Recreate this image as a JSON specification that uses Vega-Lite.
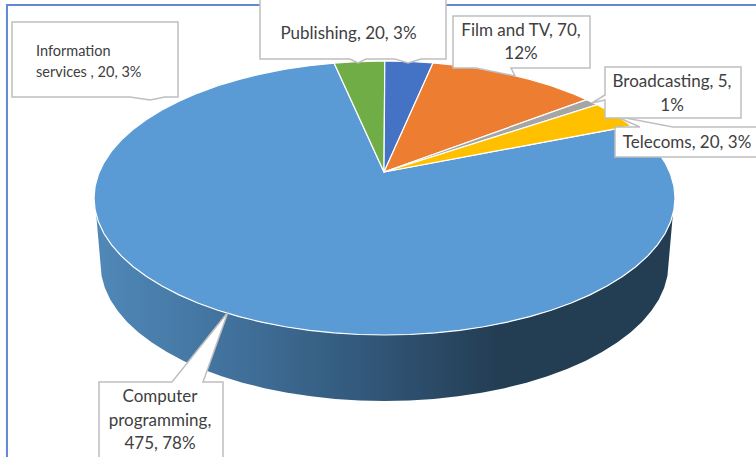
{
"$schema":"https://vega.github.io/schema/vega-lite/v6.json",
"width":756,"height":457,"padding":0,"autosize":{"type":"none"},
"background":"white",
"config":{"view":{"stroke":null}},
"datasets":{
"frame":[{"x":-129.96,"y":-189.05},{"x":-129.96,"y":140.88},{"x":127.88,"y":140.88}],
"wall":[
{"x":99.25,"y":-12.19},{"x":98.48,"y":-17.36},{"x":96.59,"y":-25.88},{"x":93.97,"y":-34.2},{"x":90.63,"y":-42.26},{"x":86.6,"y":-50},{"x":81.92,"y":-57.36},{"x":76.6,"y":-64.28},{"x":70.71,"y":-70.71},{"x":64.28,"y":-76.6},{"x":57.36,"y":-81.92},{"x":50,"y":-86.6},{"x":42.26,"y":-90.63},{"x":34.2,"y":-93.97},{"x":25.88,"y":-96.59},{"x":17.36,"y":-98.48},{"x":8.72,"y":-99.62},{"x":0,"y":-100},
{"x":-8.72,"y":-99.62},{"x":-17.36,"y":-98.48},{"x":-25.88,"y":-96.59},{"x":-34.2,"y":-93.97},{"x":-42.26,"y":-90.63},{"x":-50,"y":-86.6},{"x":-57.36,"y":-81.92},{"x":-64.28,"y":-76.6},{"x":-70.71,"y":-70.71},{"x":-76.6,"y":-64.28},{"x":-81.92,"y":-57.36},{"x":-86.6,"y":-50},{"x":-90.63,"y":-42.26},{"x":-93.97,"y":-34.2},{"x":-96.59,"y":-25.88},{"x":-98.48,"y":-17.36},{"x":-99.25,"y":-12.19},
{"x":-97.76,"y":-48.18},{"x":-97.39,"y":-56.9},{"x":-96.27,"y":-65.54},{"x":-94.43,"y":-74.06},{"x":-91.87,"y":-82.38},{"x":-88.6,"y":-90.44},{"x":-84.66,"y":-98.18},{"x":-80.08,"y":-105.54},{"x":-74.88,"y":-112.46},{"x":-69.13,"y":-118.89},{"x":-62.84,"y":-124.78},{"x":-56.07,"y":-130.1},{"x":-48.88,"y":-134.78},{"x":-41.31,"y":-138.81},{"x":-33.43,"y":-142.15},{"x":-25.3,"y":-144.77},{"x":-16.97,"y":-146.66},{"x":-8.52,"y":-147.8},{"x":0,"y":-148.18},
{"x":8.52,"y":-147.8},{"x":16.97,"y":-146.66},{"x":25.3,"y":-144.77},{"x":33.43,"y":-142.15},{"x":41.31,"y":-138.81},{"x":48.88,"y":-134.78},{"x":56.07,"y":-130.1},{"x":62.84,"y":-124.78},{"x":69.13,"y":-118.89},{"x":74.88,"y":-112.46},{"x":80.08,"y":-105.54},{"x":84.66,"y":-98.18},{"x":88.6,"y":-90.44},{"x":91.87,"y":-82.38},{"x":94.43,"y":-74.06},{"x":96.27,"y":-65.54},{"x":97.39,"y":-56.9},{"x":97.76,"y":-48.18}
],
"slices":[
{"slice":"Computer programming","x":-0.17,"y":18.98},{"slice":"Computer programming","x":85,"y":52.7},{"slice":"Computer programming","x":86.6,"y":50},{"slice":"Computer programming","x":90.63,"y":42.26},{"slice":"Computer programming","x":93.97,"y":34.2},{"slice":"Computer programming","x":96.59,"y":25.88},{"slice":"Computer programming","x":98.48,"y":17.36},{"slice":"Computer programming","x":99.62,"y":8.72},{"slice":"Computer programming","x":100,"y":0},
{"slice":"Computer programming","x":99.62,"y":-8.72},{"slice":"Computer programming","x":98.48,"y":-17.36},{"slice":"Computer programming","x":96.59,"y":-25.88},{"slice":"Computer programming","x":93.97,"y":-34.2},{"slice":"Computer programming","x":90.63,"y":-42.26},{"slice":"Computer programming","x":86.6,"y":-50},{"slice":"Computer programming","x":81.92,"y":-57.36},{"slice":"Computer programming","x":76.6,"y":-64.28},{"slice":"Computer programming","x":70.71,"y":-70.71},{"slice":"Computer programming","x":64.28,"y":-76.6},{"slice":"Computer programming","x":57.36,"y":-81.92},{"slice":"Computer programming","x":50,"y":-86.6},{"slice":"Computer programming","x":42.26,"y":-90.63},{"slice":"Computer programming","x":34.2,"y":-93.97},{"slice":"Computer programming","x":25.88,"y":-96.59},{"slice":"Computer programming","x":17.36,"y":-98.48},{"slice":"Computer programming","x":8.72,"y":-99.62},{"slice":"Computer programming","x":0,"y":-100},
{"slice":"Computer programming","x":-8.72,"y":-99.62},{"slice":"Computer programming","x":-17.36,"y":-98.48},{"slice":"Computer programming","x":-25.88,"y":-96.59},{"slice":"Computer programming","x":-34.2,"y":-93.97},{"slice":"Computer programming","x":-42.26,"y":-90.63},{"slice":"Computer programming","x":-50,"y":-86.6},{"slice":"Computer programming","x":-57.36,"y":-81.92},{"slice":"Computer programming","x":-64.28,"y":-76.6},{"slice":"Computer programming","x":-70.71,"y":-70.71},{"slice":"Computer programming","x":-76.6,"y":-64.28},{"slice":"Computer programming","x":-81.92,"y":-57.36},{"slice":"Computer programming","x":-86.6,"y":-50},{"slice":"Computer programming","x":-90.63,"y":-42.26},{"slice":"Computer programming","x":-93.97,"y":-34.2},{"slice":"Computer programming","x":-96.59,"y":-25.88},{"slice":"Computer programming","x":-98.48,"y":-17.36},{"slice":"Computer programming","x":-99.62,"y":-8.72},{"slice":"Computer programming","x":-100,"y":0},
{"slice":"Computer programming","x":-99.62,"y":8.72},{"slice":"Computer programming","x":-98.48,"y":17.36},{"slice":"Computer programming","x":-96.59,"y":25.88},{"slice":"Computer programming","x":-93.97,"y":34.2},{"slice":"Computer programming","x":-90.63,"y":42.26},{"slice":"Computer programming","x":-86.6,"y":50},{"slice":"Computer programming","x":-81.92,"y":57.36},{"slice":"Computer programming","x":-76.6,"y":64.28},{"slice":"Computer programming","x":-70.71,"y":70.71},{"slice":"Computer programming","x":-64.28,"y":76.6},{"slice":"Computer programming","x":-57.36,"y":81.92},{"slice":"Computer programming","x":-50,"y":86.6},{"slice":"Computer programming","x":-42.26,"y":90.63},{"slice":"Computer programming","x":-34.2,"y":93.97},{"slice":"Computer programming","x":-25.88,"y":96.59},{"slice":"Computer programming","x":-17.36,"y":98.48},
{"slice":"Information services","x":-0.17,"y":18.98},{"slice":"Information services","x":-17.36,"y":98.48},{"slice":"Information services","x":-8.7,"y":99.62},{"slice":"Information services","x":0.1,"y":100},
{"slice":"Publishing","x":-0.17,"y":18.98},{"slice":"Publishing","x":0.1,"y":100},{"slice":"Publishing","x":8.7,"y":99.62},{"slice":"Publishing","x":16.7,"y":98.6},
{"slice":"Film and TV","x":-0.17,"y":18.98},{"slice":"Film and TV","x":16.7,"y":98.6},{"slice":"Film and TV","x":25.88,"y":96.59},{"slice":"Film and TV","x":34.2,"y":93.97},{"slice":"Film and TV","x":42.26,"y":90.63},{"slice":"Film and TV","x":50,"y":86.6},{"slice":"Film and TV","x":57.36,"y":81.92},{"slice":"Film and TV","x":64.28,"y":76.6},{"slice":"Film and TV","x":69.6,"y":71.8},
{"slice":"Broadcasting","x":-0.17,"y":18.98},{"slice":"Broadcasting","x":69.6,"y":71.8},{"slice":"Broadcasting","x":73.2,"y":68.1},
{"slice":"Telecoms","x":-0.17,"y":18.98},{"slice":"Telecoms","x":73.2,"y":68.1},{"slice":"Telecoms","x":76.6,"y":64.28},{"slice":"Telecoms","x":80,"y":60},{"slice":"Telecoms","x":85,"y":52.7}
],
"callouts":[
{"box":"Information services","x":-128.23,"y":128.47},{"box":"Information services","x":-71.08,"y":128.47},{"box":"Information services","x":-71.08,"y":73.72},{"box":"Information services","x":-75.56,"y":73.72},{"box":"Information services","x":-80.72,"y":71.53},{"box":"Information services","x":-87.61,"y":73.72},{"box":"Information services","x":-128.23,"y":73.72},
{"box":"Publishing","x":-42.86,"y":148.18},{"box":"Publishing","x":21.17,"y":148.18},{"box":"Publishing","x":21.17,"y":101.46},{"box":"Publishing","x":12.56,"y":101.46},{"box":"Publishing","x":8.09,"y":98.54},{"box":"Publishing","x":3.61,"y":101.46},{"box":"Publishing","x":-6.37,"y":101.46},{"box":"Publishing","x":-9.12,"y":98.54},{"box":"Publishing","x":-11.88,"y":101.46},{"box":"Publishing","x":-42.86,"y":101.46},
{"box":"Film and TV","x":23.58,"y":132.85},{"box":"Film and TV","x":70.74,"y":132.85},{"box":"Film and TV","x":70.74,"y":94.89},{"box":"Film and TV","x":43.55,"y":94.89},{"box":"Film and TV","x":44.92,"y":89.05},{"box":"Film and TV","x":31.5,"y":94.89},{"box":"Film and TV","x":23.58,"y":94.89},
{"box":"Telecoms","x":79.35,"y":51.82},{"box":"Telecoms","x":87.95,"y":51.82},{"box":"Telecoms","x":79.35,"y":59.85},{"box":"Telecoms","x":99.31,"y":51.82},{"box":"Telecoms","x":129.6,"y":51.82},{"box":"Telecoms","x":129.6,"y":29.93},{"box":"Telecoms","x":79.35,"y":29.93},
{"box":"Broadcasting","x":75.9,"y":95.62},{"box":"Broadcasting","x":122.72,"y":95.62},{"box":"Broadcasting","x":122.72,"y":58.39},{"box":"Broadcasting","x":75.9,"y":58.39},{"box":"Broadcasting","x":75.9,"y":71.53},{"box":"Broadcasting","x":71.43,"y":69.34},{"box":"Broadcasting","x":75.9,"y":75.18},
{"box":"Computer programming","x":-98.28,"y":-134.31},{"box":"Computer programming","x":-73.15,"y":-134.31},{"box":"Computer programming","x":-53.87,"y":-83.21},{"box":"Computer programming","x":-62.48,"y":-134.31},{"box":"Computer programming","x":-55.59,"y":-134.31},{"box":"Computer programming","x":-55.59,"y":-192.7},{"box":"Computer programming","x":-98.28,"y":-192.7}
],
"labels":[
{"text":"Publishing, 20, 3%","x":-12.39,"y":119.71},
{"text":"Film and TV, 70,","x":46.99,"y":121.9},
{"text":"12%","x":46.99,"y":105.11},
{"text":"Broadcasting, 5,","x":98.97,"y":84.67},
{"text":"1%","x":98.97,"y":67.15},
{"text":"Telecoms, 20, 3%","x":104.13,"y":40.15},
{"text":"Computer","x":-77.28,"y":-145.26},
{"text":"programming,","x":-77.28,"y":-162.77},
{"text":"475, 78%","x":-77.28,"y":-179.56}
],
"labelsSmall":[
{"text":"Information","x":-119.97,"y":106.57},
{"text":"services , 20, 3%","x":-119.97,"y":91.24}
]
},
"encoding":{
"x":{"field":"x","type":"quantitative","axis":null,"scale":{"domain":[-132.36,127.88],"nice":false,"zero":false}},
"y":{"field":"y","type":"quantitative","axis":null,"scale":{"domain":[-189.05,144.53],"nice":false,"zero":false}}
},
"layer":[
{"data":{"name":"frame"},
 "transform":[{"window":[{"op":"row_number","as":"i"}]}],
 "mark":{"type":"line","stroke":"#6288d4","strokeWidth":2},
 "encoding":{"order":{"field":"i","type":"quantitative"}}},
{"data":{"name":"wall"},
 "transform":[{"window":[{"op":"row_number","as":"i"}]}],
 "mark":{"type":"line","interpolate":"linear-closed","filled":true,"strokeWidth":0,
  "fill":{"gradient":"linear","x1":0,"y1":0,"x2":1,"y2":0,"stops":[{"offset":0,"color":"#5088b8"},{"offset":0.22,"color":"#42739e"},{"offset":0.5,"color":"#305475"},{"offset":0.7,"color":"#233d53"},{"offset":1,"color":"#233d53"}]}},
 "encoding":{"order":{"field":"i","type":"quantitative"}}},
{"data":{"name":"slices"},
 "transform":[{"window":[{"op":"row_number","as":"i"}]}],
 "mark":{"type":"line","interpolate":"linear-closed","filled":true,"stroke":"white","strokeWidth":1.2,"opacity":1},
 "encoding":{"order":{"field":"i","type":"quantitative"},
  "color":{"field":"slice","type":"nominal","legend":null,"sort":null,"scale":{"domain":["Computer programming","Information services","Publishing","Film and TV","Broadcasting","Telecoms"],"range":["#5b9bd5","#70ad47","#4472c4","#ed7d31","#a5a5a5","#ffc000"]}}}},
{"data":{"name":"callouts"},
 "transform":[{"window":[{"op":"row_number","as":"i"}]}],
 "mark":{"type":"line","interpolate":"linear-closed","filled":true,"stroke":"#bfbfbf","strokeWidth":1.5,"fill":"white"},
 "encoding":{"order":{"field":"i","type":"quantitative"},"detail":{"field":"box","type":"nominal"}}},
{"data":{"name":"labels"},
 "mark":{"type":"text","font":"Lato","fontSize":17,"color":"#404040","align":"center","baseline":"middle"},
 "encoding":{"text":{"field":"text","type":"nominal"}}},
{"data":{"name":"labelsSmall"},
 "mark":{"type":"text","font":"Lato","fontSize":14.5,"color":"#404040","align":"left","baseline":"middle"},
 "encoding":{"text":{"field":"text","type":"nominal"}}}
]
}
